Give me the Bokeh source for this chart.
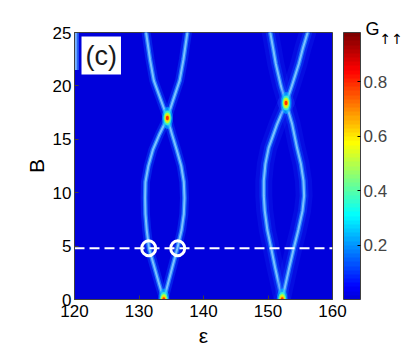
import numpy as np
from bokeh.plotting import figure
from bokeh.models import (LinearColorMapper, ColorBar, FixedTicker, Label, ColumnDataSource)
from bokeh.embed import file_html
from bokeh.resources import INLINE

# ---------------- data ----------------
x_ticks = [120, 130, 140, 150, 160]
y_ticks = [0, 5, 10, 15, 20, 25]
cb_ticks = [0.2, 0.4, 0.6, 0.8]

# left resonance group: lobe between the two crossings
lobeL_B = [0, 1.5, 3, 4.8, 6.5, 8, 9.5, 11, 12.5, 14, 15.5, 17.0]
lobeL_left = [133.85, 133.1, 132.4, 131.55, 131.2, 131.0, 130.95, 131.0, 131.45, 132.15, 133.2, 134.4]
lobeL_right = [133.85, 134.5, 135.15, 135.95, 136.6, 136.95, 137.05, 136.95, 136.55, 135.85, 135.1, 134.4]
upL_B = [17.0, 18.5, 20.5, 22.5, 25]
upL_left = [134.4, 133.5, 132.3, 131.7, 131.1]
upL_right = [134.4, 135.2, 136.3, 136.9, 137.5]

# right resonance group
lobeR_B = [0, 1.5, 3, 4.8, 6.5, 8.3, 9.7, 11.1, 12.7, 14.2, 16.4, 18.4]
lobeR_left = [152.2, 151.65, 151.1, 150.5, 149.9, 149.5, 149.35, 149.35, 149.6, 150.1, 151.4, 152.8]
lobeR_right = [152.2, 152.75, 153.3, 154.0, 154.7, 155.35, 155.6, 155.5, 155.1, 154.5, 153.75, 152.8]
upR_B = [18.4, 20.0, 22.1, 23.5, 25]
upR_left = [152.8, 152.0, 151.2, 150.8, 150.35]
upR_right = [152.8, 153.7, 154.8, 155.4, 156.15]

# faint branch at the left edge
edge_B = [21.5, 23, 25]
edge_eps = [120.2, 120.2, 120.2]

# conductance maxima at the crossings
hot_eps = [133.85, 134.4, 152.2, 152.8]
hot_B = [0.0, 17.0, 0.0, 18.4]

# marked points on the dashed cut
cut_B = 4.8
mark_eps = [131.5, 136.0]
mark_B = [4.8, 4.8]

G_max = 0.98

# ---------------- colours ----------------
def jet(t):
    r = np.clip(1.5 - abs(4 * t - 3), 0, 1)
    g = np.clip(1.5 - abs(4 * t - 2), 0, 1)
    b = np.clip(1.5 - abs(4 * t - 1), 0, 1)
    return "#%02x%02x%02x" % (int(r * 255), int(g * 255), int(b * 255))

palette = [jet(0.09 + 0.91 * i / 63) for i in range(64)]

FONT = "Liberation Sans"

W, H = 405, 350
p = figure(width=W, height=H, x_range=(120, 160), y_range=(0, 25),
           output_backend="svg", toolbar_location=None,
           min_border_left=74, min_border_top=32, min_border_bottom=H - 299, min_border_right=W - 332)
p.background_fill_color = palette[0]
p.border_fill_color = "white"
p.grid.visible = False
p.outline_line_color = "#404040"

for ax in (p.xaxis[0], p.yaxis[0]):
    ax.major_label_text_font = FONT
    ax.major_label_text_font_size = "17px"
    ax.major_label_text_color = "black"
    ax.axis_label_text_font = FONT
    ax.axis_label_text_font_style = "normal"
    ax.axis_label_text_font_size = "21px"
    ax.axis_label_text_color = "black"
    ax.major_tick_in = 4
    ax.major_tick_out = 0
    ax.minor_tick_line_color = None
    ax.axis_line_color = "#404040"
    ax.major_tick_line_color = "#404040"
p.xaxis.ticker = FixedTicker(ticks=x_ticks)
p.yaxis.ticker = FixedTicker(ticks=y_ticks)
p.xaxis.axis_label = "ε"
p.yaxis.axis_label = "B"
p.xaxis.major_label_standoff = 5
p.yaxis.major_label_standoff = 3
p.xaxis.axis_label_standoff = 4
p.yaxis.axis_label_standoff = 2

# ---------------- resonance lines (glow) ----------------
branches = [
    (lobeL_left, lobeL_B, False), (lobeL_right, lobeL_B, False),
    (upL_left, upL_B, False), (upL_right, upL_B, False),
    (lobeR_left, lobeR_B, True), (lobeR_right, lobeR_B, True),
    (upR_left, upR_B, True), (upR_right, upR_B, True),
]
for xs, ys, wide in branches:
    if wide:
        p.line(xs, ys, line_width=17, line_color="#1a40ff", line_alpha=0.18, line_cap="round", line_join="round")
    p.line(xs, ys, line_width=9, line_color="#0a50ff", line_alpha=0.4, line_cap="round", line_join="round")
    p.line(xs, ys, line_width=4.5, line_color="#2a8cff", line_alpha=0.8, line_cap="round", line_join="round")
    p.line(xs, ys, line_width=2, line_color="#80c4ff", line_alpha=0.95, line_cap="round", line_join="round")

p.line(edge_eps, edge_B, line_width=6, line_color="#3a8cff", line_alpha=0.7)
p.line(edge_eps, edge_B, line_width=2, line_color="#8cc8ff", line_alpha=0.8)

# hot spots at crossings
hot = ColumnDataSource(dict(x=hot_eps, y=hot_B))
for w, h, c, a in [(11, 22, "#00c8ff", 0.55), (8, 15, "#40ffc0", 0.8), (6, 11, "#c8ff20", 0.9),
                   (4.5, 7, "#ffd000", 1.0), (3, 4.5, "#ff3000", 1.0)]:
    p.ellipse(x="x", y="y", width=w, height=h, width_units="screen", height_units="screen",
              fill_color=c, fill_alpha=a, line_color=None, source=hot)

# dashed cut and marked circles
p.line([120, 160], [cut_B, cut_B], line_color="white", line_width=2, line_dash="10 5")
p.ellipse(x=mark_eps, y=mark_B, width=14, height=15, width_units="screen", height_units="screen",
          fill_color=None, line_color="white", line_width=3)

# panel label
p.add_layout(Label(x=120, y=25, x_offset=7, y_offset=-4, text="(c)", text_font=FONT,
                   text_font_size="27px", text_color="#1a1a1a", text_baseline="top",
                   background_fill_color="white", padding=4))

# colour bar
mapper = LinearColorMapper(palette=palette, low=0, high=G_max)
cb = ColorBar(color_mapper=mapper, width=17, padding=0, margin=0, location=(11, 0),
              ticker=FixedTicker(ticks=cb_ticks), major_label_text_font=FONT,
              major_label_text_font_size="17px", label_standoff=3,
              major_tick_in=3, major_tick_out=0, major_tick_line_color="black",
              bar_line_color="#404040", bar_line_width=1, background_fill_color=None)
p.add_layout(cb, "right")

# colour-bar title G with subscript arrows (side panels are not clipped to the frame)
p.add_layout(Label(x=365, y=28, x_units="canvas", y_units="canvas", text="G",
                   text_font=FONT, text_font_size="18px", text_color="black",
                   text_baseline="alphabetic"), "left")
p.add_layout(Label(x=379, y=38, x_units="canvas", y_units="canvas", text="↑↑",
                   text_font="DejaVu Sans", text_font_size="14px", text_color="black",
                   text_baseline="alphabetic"), "above")

open("out.html", "w").write(file_html(p, INLINE))
